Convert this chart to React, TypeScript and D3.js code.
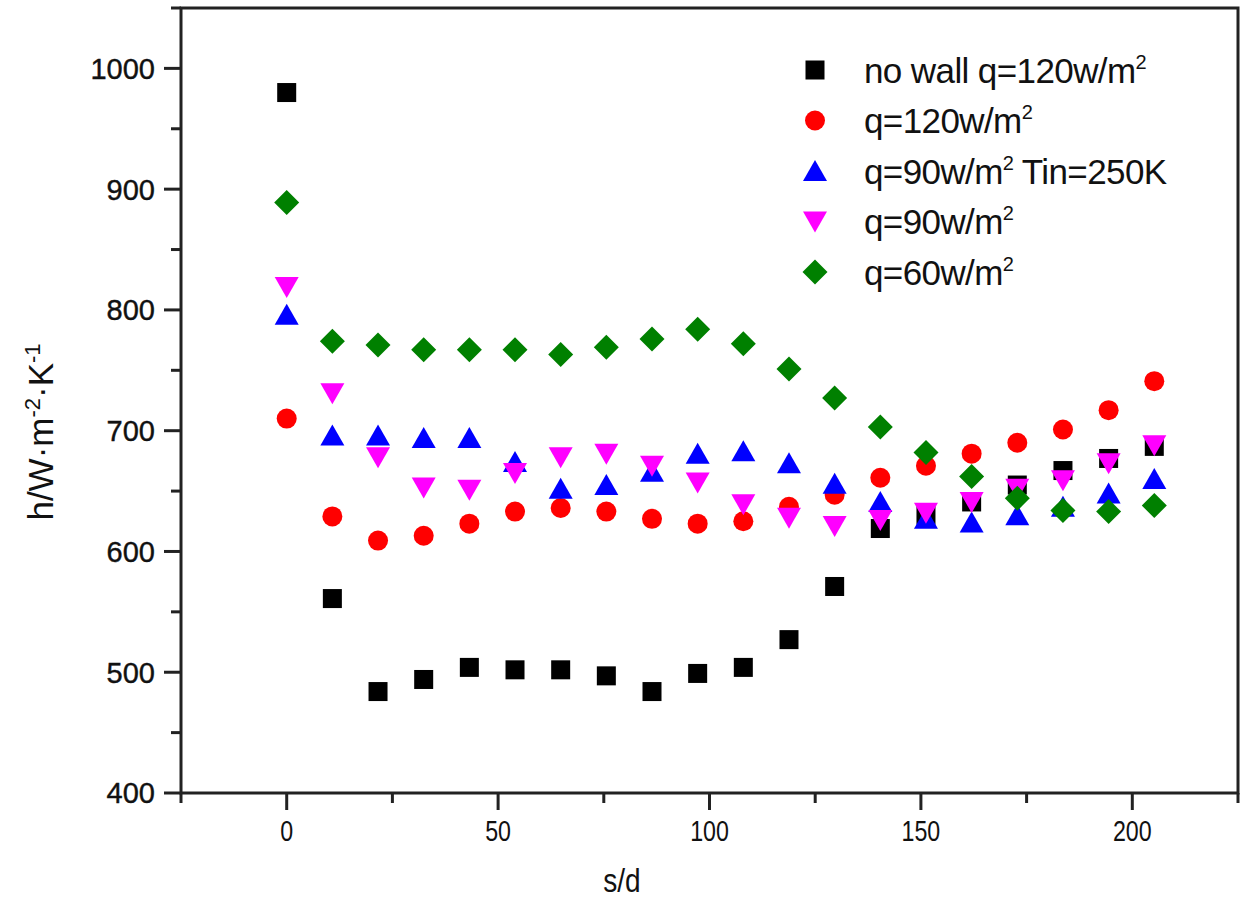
import React from "react";
import * as d3 from "d3";

const sd = [0, 10.8, 21.6, 32.4, 43.2, 54, 64.8, 75.6, 86.4, 97.2, 108, 118.8, 129.6, 140.4, 151.2, 162, 172.8, 183.6, 194.4, 205.2];

const noWall120 = [980, 561, 484, 494, 504, 502, 502, 497, 484, 499, 504, 527, 571, 619, 630, 641, 655, 667, 677, 687];
const q120 = [710, 629, 609, 613, 623, 633, 636, 633, 627, 623, 625, 637, 647, 661, 671, 681, 690, 701, 717, 741];
const q90Tin250 = [796, 696, 696, 694, 694, 674, 652, 655, 666, 681, 683, 673, 656, 641, 627, 624, 630, 637, 648, 660];
const q90 = [819, 731, 678, 653, 651, 665, 678, 681, 671, 657, 639, 628, 621, 626, 632, 641, 652, 659, 673, 688];
const q60 = [889, 774, 771, 767, 767, 767, 763, 769, 776, 784, 772, 751, 727, 703, 682, 662, 644, 634, 633, 638];

const seriesNames = ["no wall q=120w/m", "q=120w/m", "q=90w/m", "q=90w/m", "q=60w/m"];
const seriesSuffix = ["", "", " Tin=250K", "", ""];
const seriesColors = ["#000000", "#ff0000", "#0000ff", "#ff00ff", "#008000"];
const seriesShapes = ["square", "circle", "up", "down", "diamond"];
const seriesValues = [noWall120, q120, q90Tin250, q90, q60];

const xTicks = [-25, 0, 25, 50, 75, 100, 125, 150, 175, 200, 225];
const yTicks = [400, 450, 500, 550, 600, 650, 700, 750, 800, 850, 900, 950, 1000, 1050];

const FONT = "'Liberation Sans', Arial, sans-serif";

function Marker({ shape, x, y, color }: { shape: string; x: number; y: number; color: string }) {
  if (shape === "square") return <rect x={x - 9.5} y={y - 9.5} width={19} height={19} fill={color} />;
  if (shape === "circle") return <circle cx={x} cy={y} r={10} fill={color} />;
  if (shape === "up") return <path d={`M${x},${y - 11}L${x + 12},${y + 10}L${x - 12},${y + 10}Z`} fill={color} />;
  if (shape === "down") return <path d={`M${x},${y + 11}L${x + 12},${y - 10}L${x - 12},${y - 10}Z`} fill={color} />;
  return <path d={`M${x},${y - 12.5}L${x + 12.5},${y}L${x},${y + 12.5}L${x - 12.5},${y}Z`} fill={color} />;
}

export default function App() {
  const W = 1244, H = 913;
  const left = 181, right = 1238, top = 8, bottom = 793;
  const x = d3.scaleLinear().domain([-25, 225]).range([left, right]);
  const y = d3.scaleLinear().domain([400, 1050]).range([bottom, top]);

  return (
    <svg width={W} height={H} style={{ position: "absolute", left: 0, top: 0, background: "#fff" }} fontFamily={FONT}>
      <rect x={0} y={0} width={W} height={H} fill="#fff" />
      {/* frame */}
      <rect x={left} y={top} width={right - left} height={bottom - top} fill="none" stroke="#222" strokeWidth={3} />
      {/* y ticks */}
      {yTicks.map((t) => {
        const major = t % 100 === 0;
        return (
          <g key={"y" + t}>
            <line x1={left - (major ? 17 : 10)} x2={left} y1={y(t)} y2={y(t)} stroke="#222" strokeWidth={3} />
            {major && (
              <text x={left - 26} y={y(t)} dy="0.36em" textAnchor="end" fontSize={29} fill="#111" stroke="#111" strokeWidth={0.4}>
                {t}
              </text>
            )}
          </g>
        );
      })}
      {/* x ticks */}
      {xTicks.map((t) => {
        const major = t % 50 === 0;
        return (
          <g key={"x" + t}>
            <line x1={x(t)} x2={x(t)} y1={bottom} y2={bottom + (major ? 17 : 10)} stroke="#222" strokeWidth={3} />
            {major && (
              <text
                transform={`translate(${x(t)},${bottom + 48}) scale(0.8,1)`}
                textAnchor="middle"
                fontSize={29}
                fill="#111"
              >
                {t}
              </text>
            )}
          </g>
        );
      })}
      {/* axis titles */}
      <text transform={`translate(622,892) scale(0.85,1)`} textAnchor="middle" fontSize={33} fill="#111">
        s/d
      </text>
      <text transform={`translate(53,432) rotate(-90)`} textAnchor="middle" fontSize={35} fill="#111">
        h/W·m<tspan dy={-13} fontSize={22}>-2</tspan>
        <tspan dy={13}>·K</tspan>
        <tspan dy={-13} fontSize={22}>-1</tspan>
      </text>
      {/* data */}
      {seriesValues.map((vals, si) => (
        <g key={"s" + si}>
          {vals.map((v, i) => (
            <Marker key={i} shape={seriesShapes[si]} x={x(sd[i])} y={y(v)} color={seriesColors[si]} />
          ))}
        </g>
      ))}
      {/* legend */}
      {seriesNames.map((n, i) => {
        const ly = 70 + i * 50.5;
        return (
          <g key={"l" + i}>
            <Marker shape={seriesShapes[i]} x={815} y={ly} color={seriesColors[i]} />
            <text x={864} y={ly} dy="0.36em" fontSize={35} fill="#111" letterSpacing={-0.6}>
              {n}
              <tspan dy={-14} fontSize={20}>2</tspan>
              <tspan dy={14}>{seriesSuffix[i]}</tspan>
            </text>
          </g>
        );
      })}
    </svg>
  );
}
